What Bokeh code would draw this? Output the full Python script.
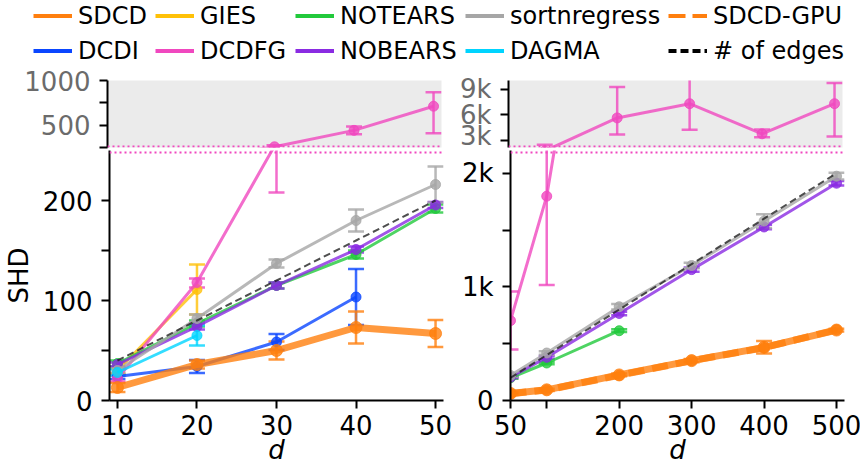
import math
from bokeh.plotting import figure
from bokeh.models import (Range1d, ColumnDataSource, Whisker, TeeHead, Span,
                          Legend, LegendItem, FixedTicker)
from bokeh.layouts import column, row
from bokeh.embed import file_html
from bokeh.resources import INLINE

FONT = "DejaVu Sans"

# ---------------- data: left panel (small d) ----------------
d_small = [10, 20, 30, 40, 50]
sdcd_s = [13, 36, 50, 73, 67]
sdcd_s_err = [4.5, 4, 9, 16, 13.5]
dcdi_d = [10, 20, 30, 40]
dcdi_s = [24, 34, 58.5, 103.5]
dcdi_s_err = [2.5, 6.5, 8, 28]
gies_d = [10, 20]
gies_s = [30, 111]
gies_s_err = [3, 25]
dcdfg_s = [22, 118, 258, 442, 712]
dcdfg_s_lo = [19, 113, 208, 398, 410]
dcdfg_s_hi = [25, 122, 275, 486, 868]
notears_s = [37, 77, 115, 146, 192]
notears_s_err = [3, 3, 3, 4, 4]
nobears_s = [36, 74, 115, 151, 195.5]
nobears_s_err = [2, 3, 3, 3, 3]
sortn_s = [30, 82, 137, 180, 216]
sortn_s_err = [2, 4, 4, 11, 18]
dagma_d = [10, 20]
dagma_s = [28, 65]
dagma_s_err = [3, 10]
edges_s = [40, 80, 120, 160, 200]

# ---------------- data: right panel (large d) ----------------
d_large = [50, 100, 200, 300, 400, 500]
sdcd_l = [62, 94, 225, 351, 468, 620]
sdcd_l_err = [8, 10, 12, 14, 55, 12]
sdcdgpu_l = [60, 92, 222, 350, 465, 622]
notears_d = [50, 100, 200]
notears_l = [200, 330, 614]
notears_l_err = [8, 12, 12]
nobears_l = [205, 380, 766, 1152, 1527, 1912]
nobears_l_err = [8, 12, 15, 18, 20, 20]
sortn_l = [220, 418, 825, 1188, 1579, 1974]
sortn_l_err = [10, 15, 25, 25, 60, 30]
dcdfg_l = [703, 1798, 5645, 7300, 3793, 7301]
dcdfg_l_lo = [449, 1017, 3710, 4266, 3390, 3473]
dcdfg_l_hi = [959, 2520, 9237, 10400, 4300, 9710]
edges_l = [200, 400, 800, 1200, 1600, 2000]

# ---------------- styles ----------------
C = dict(SDCD="#ff7f0e", GIES="#ffc107", NOTEARS="#22c93c", sortnregress="#a6a6a6",
         DCDI="#0a46ff", DCDFG="#f048bf", NOBEARS="#8a2be2", DAGMA="#00d4ff",
         EDGES="#222222")
ALPHA = 0.8


def series(p, x, y, color, lw=3, size=10, err=None, lo=None, hi=None, dash="solid", marker=True):
    data = dict(x=list(x), y=list(y))
    if err is not None:
        data["lo"] = [a - b for a, b in zip(y, err)]
        data["hi"] = [a + b for a, b in zip(y, err)]
    elif lo is not None:
        data["lo"] = list(lo)
        data["hi"] = list(hi)
    src = ColumnDataSource(data)
    p.line("x", "y", source=src, line_color=color, line_width=lw, line_alpha=ALPHA, line_dash=dash)
    if marker:
        p.scatter("x", "y", source=src, size=size, fill_color=color, line_color=color,
                  fill_alpha=ALPHA, line_alpha=ALPHA)
    if "lo" in data:
        w = Whisker(source=src, base="x", lower="lo", upper="hi", dimension="height",
                    line_color=color, line_width=2.5, line_alpha=ALPHA,
                    lower_head=TeeHead(size=16, line_color=color, line_width=2.5, line_alpha=ALPHA),
                    upper_head=TeeHead(size=16, line_color=color, line_width=2.5, line_alpha=ALPHA))
        p.add_layout(w)


def style(p, ticks, overrides, label_color="black", xaxis=True, xticks=None, xover=None, ylabel=None):
    p.outline_line_color = None
    p.grid.visible = False
    ax = p.yaxis[0]
    ax.ticker = FixedTicker(ticks=ticks)
    ax.major_label_overrides = overrides
    ax.axis_line_width = 2
    ax.axis_line_color = "black"
    ax.major_tick_line_width = 2
    ax.major_tick_line_color = "black"
    ax.major_tick_out = 8
    ax.major_tick_in = 0
    ax.minor_tick_line_color = None
    ax.major_label_standoff = 9
    ax.major_label_text_font = FONT
    ax.major_label_text_font_size = "26px"
    ax.major_label_text_color = label_color
    if ylabel:
        ax.axis_label = ylabel
        ax.axis_label_text_font = FONT
        ax.axis_label_text_font_size = "26px"
        ax.axis_label_text_font_style = "normal"
        ax.axis_label_text_color = "black"
        ax.axis_label_standoff = 6
    if xaxis:
        xa = p.xaxis[0]
        xa.ticker = FixedTicker(ticks=xticks)
        xa.major_label_overrides = xover or {}
        xa.axis_line_width = 2
        xa.axis_line_color = "black"
        xa.major_tick_line_width = 2
        xa.major_tick_line_color = "black"
        xa.major_tick_out = 8
        xa.major_tick_in = 0
        xa.minor_tick_line_color = None
        xa.major_label_standoff = 6
        xa.major_label_text_font = FONT
        xa.major_label_text_font_size = "26px"
        xa.major_label_text_color = "black"
        xa.axis_label = "d"
        xa.axis_label_text_font = FONT
        xa.axis_label_text_font_size = "26px"
        xa.axis_label_text_font_style = "italic"
        xa.axis_label_text_color = "black"
        xa.axis_label_standoff = -3


def mkfig(xr, yr, fh, left, right, top, bottom, xaxis):
    return figure(frame_width=334, frame_height=fh, x_range=Range1d(*xr), y_range=Range1d(*yr),
                  min_border_left=left, min_border_right=right, min_border_top=top,
                  min_border_bottom=bottom, toolbar_location=None, output_backend="svg",
                  x_axis_location="below" if xaxis else None)


# ---------------- panels ----------------
lt = mkfig((9, 51), (250, 1000), 67, 107, 11, 15, 3, False)
rt = mkfig((50, 511), (2200, 10000), 67, 56, 18, 15, 3, False)
lb = mkfig((9, 51), (0, 250), 250, 107, 11, 0, 73, True)
rb = mkfig((50, 511), (0, 2200), 250, 56, 18, 0, 73, True)

for p in (lt, rt):
    p.background_fill_color = "#ebebeb"

# left bottom
series(lb, dcdi_d, dcdi_s, C["DCDI"], err=dcdi_s_err)
series(lb, gies_d, gies_s, C["GIES"], err=gies_s_err)
series(lb, d_small, dcdfg_s, C["DCDFG"], lo=dcdfg_s_lo, hi=dcdfg_s_hi)
series(lb, d_small, notears_s, C["NOTEARS"], err=notears_s_err)
series(lb, d_small, nobears_s, C["NOBEARS"], err=nobears_s_err)
series(lb, d_small, sortn_s, C["sortnregress"], err=sortn_s_err)
series(lb, dagma_d, dagma_s, C["DAGMA"], err=dagma_s_err)
series(lb, d_small, sdcd_s, C["SDCD"], lw=7, size=12, err=sdcd_s_err)
series(lb, d_small, edges_s, C["EDGES"], lw=2, dash="7 4", marker=False)

# left top
series(lt, d_small, dcdfg_s, C["DCDFG"], lo=dcdfg_s_lo, hi=dcdfg_s_hi)

# right bottom
series(rb, d_large, dcdfg_l, C["DCDFG"], lo=dcdfg_l_lo, hi=dcdfg_l_hi)
series(rb, notears_d, notears_l, C["NOTEARS"], err=notears_l_err)
series(rb, d_large, nobears_l, C["NOBEARS"], err=nobears_l_err)
series(rb, d_large, sortn_l, C["sortnregress"], err=sortn_l_err)
series(rb, d_large, sdcd_l, C["SDCD"], lw=7, size=12, err=sdcd_l_err)
series(rb, d_large, sdcdgpu_l, C["SDCD"], lw=7, size=10, dash="16 8")
series(rb, d_large, edges_l, C["EDGES"], lw=2, dash="7 4", marker=False)

# right top
series(rt, d_large, dcdfg_l, C["DCDFG"], lo=dcdfg_l_lo, hi=dcdfg_l_hi)

style(lt, [250, 500, 750, 1000], {250: "", 750: ""}, label_color="#6b6b6b", xaxis=False)
style(rt, [3000, 6000, 9000], {3000: "3k", 6000: "6k", 9000: "9k"}, label_color="#6b6b6b", xaxis=False)
style(lb, [0, 50, 100, 150, 200], {50: "", 150: ""}, xticks=d_small, ylabel="SHD")
style(rb, [0, 500, 1000, 1500, 2000], {0: "0", 500: "", 1000: "1k", 1500: "", 2000: "2k"},
      xticks=d_large, xover={100: ""})

# axis-break dotted lines
for p, loc in ((lt, 261), (lb, 248), (rt, 2316), (rb, 2182)):
    p.add_layout(Span(location=loc, dimension="width", line_color=C["DCDFG"],
                      line_dash="2 3", line_width=2))

# ---------------- legend ----------------
lg = figure(width=860, height=65, x_range=Range1d(0, 1), y_range=Range1d(0, 1),
            toolbar_location=None, min_border=0, output_backend="svg",
            x_axis_location=None, y_axis_location=None)
lg.outline_line_color = None
lg.grid.visible = False

legend_cols = [
    [("SDCD", C["SDCD"], "solid"), ("DCDI", C["DCDI"], "solid")],
    [("GIES", C["GIES"], "solid"), ("DCDFG", C["DCDFG"], "solid")],
    [("NOTEARS", C["NOTEARS"], "solid"), ("NOBEARS", C["NOBEARS"], "solid")],
    [("sortnregress", C["sortnregress"], "solid"), ("DAGMA", C["DAGMA"], "solid")],
    [("SDCD-GPU", C["SDCD"], "17 7"), ("# of edges", "black", "8 4")],
]
col_x = [33, 155, 295, 465, 668]
nan = float("nan")
for cx, items in zip(col_x, legend_cols):
    li = []
    for name, color, dash in items:
        r = lg.line([nan, nan], [nan, nan], line_color=color, line_width=4, line_dash=dash)
        li.append(LegendItem(label=name, renderers=[r]))
    leg = Legend(items=li, location=(cx, 0), orientation="vertical", padding=0, margin=0,
                 spacing=6, glyph_width=39, glyph_height=29, label_height=29,
                 label_standoff=6, label_text_font=FONT, label_text_font_size="24px",
                 label_text_color="black", border_line_color=None, background_fill_alpha=0)
    lg.add_layout(leg)

layout = column(lg, row(lt, rt), row(lb, rb))
open("out.html", "w").write(file_html(layout, INLINE))
